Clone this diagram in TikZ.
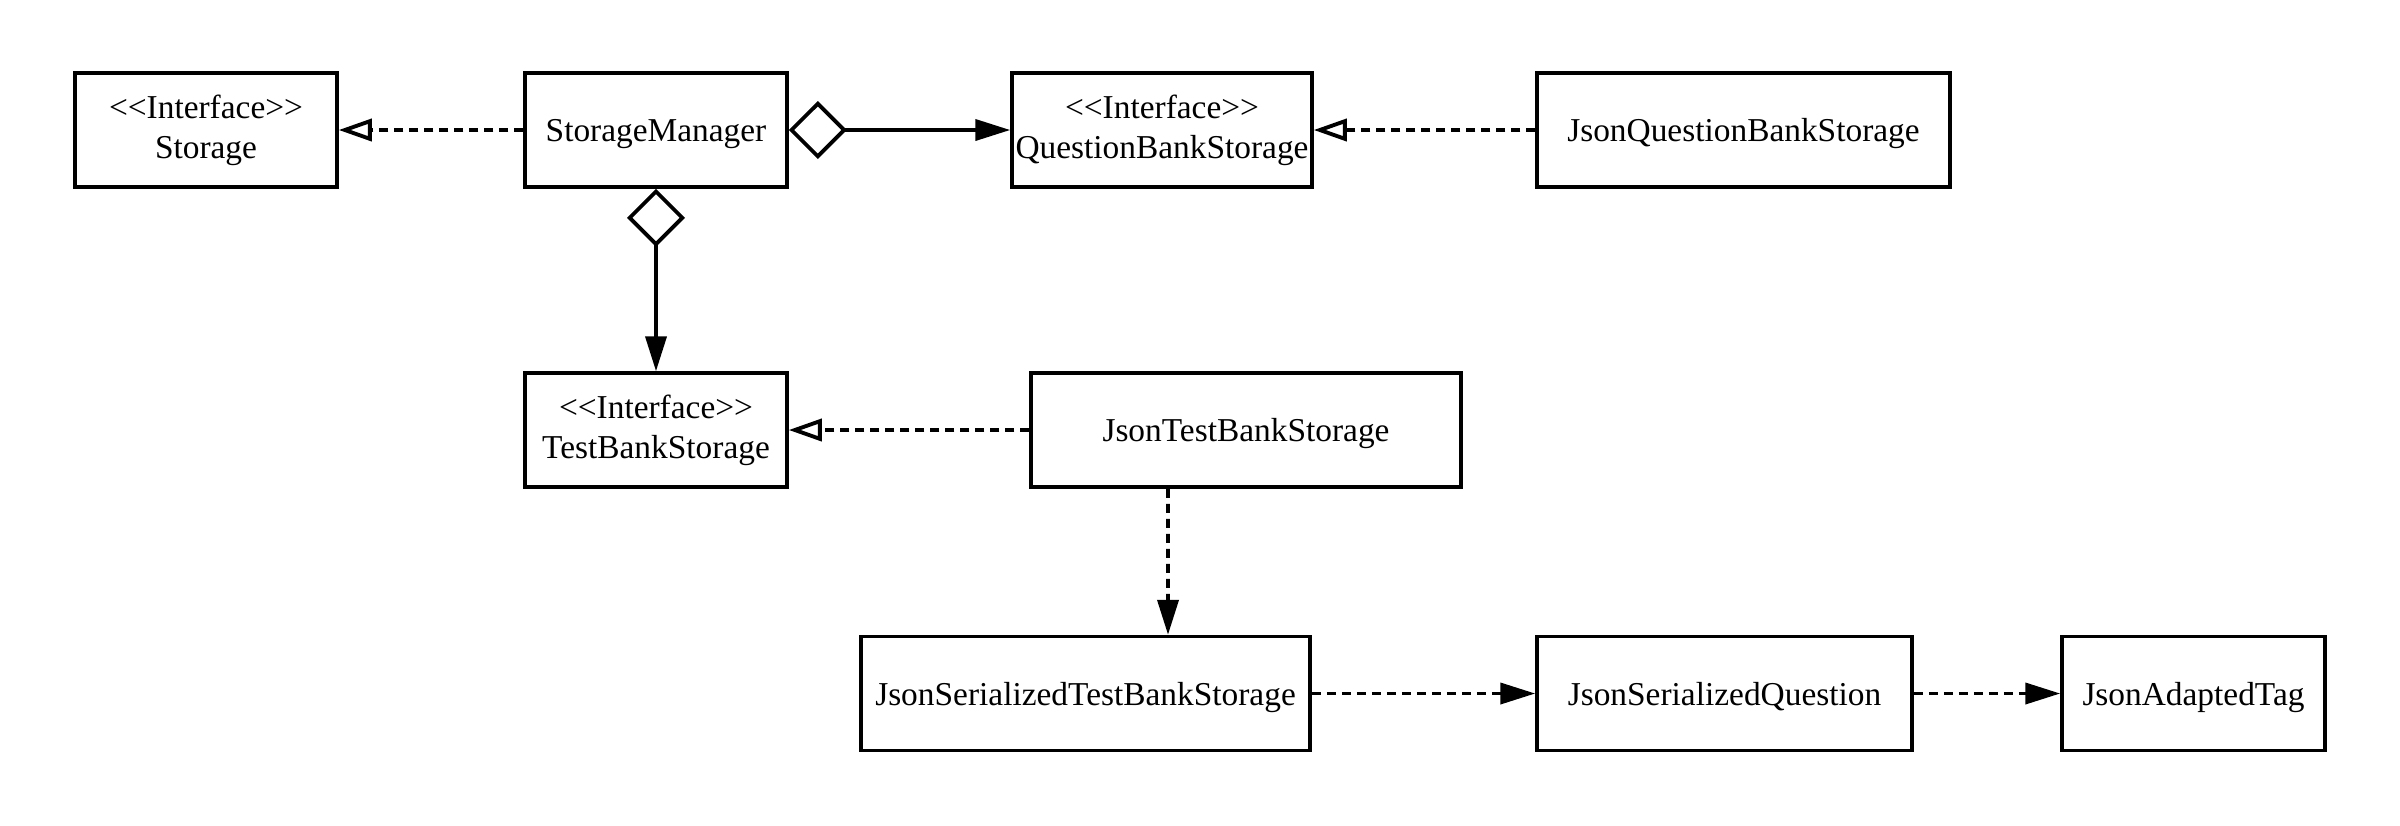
\documentclass[tikz,border=0pt]{standalone}
\usepackage{fontspec}
\setmainfont{Liberation Serif}
\usepackage{tikz}
\usetikzlibrary{arrows.meta,positioning,calc}

\begin{document}
\begin{tikzpicture}[>=Latex,
    cls/.style={draw,line width=1pt,minimum height=1.14cm,align=center,inner xsep=0.5pt,
      font=\fontsize{9.5}{11.4}\selectfont},
    onecls/.style={cls,text depth=0pt},
    realize/.style={line width=1.1pt,dash pattern=on 0.09cm off 0.06cm,
      -{Triangle[open,length=0.33cm,width=0.22cm,line width=1.1pt]}},
    depend/.style={line width=1.1pt,dash pattern=on 0.09cm off 0.06cm,
      -{Triangle[length=0.35cm,width=0.21cm]}},
    aggr/.style={line width=1.1pt,
      {Diamond[open,length=0.58cm,width=0.58cm,line width=1.1pt]}-{Triangle[length=0.35cm,width=0.21cm]}}]
  \useasboundingbox (0,0) rectangle (24,-8.25);
  % top row
  \node[cls,minimum width=2.62cm] (storage) at (2.06,-1.30) {<{}<Interface>{}>\\Storage};
  \node[onecls,minimum width=2.62cm] (mgr) at (6.56,-1.30) {StorageManager};
  \node[cls,minimum width=3.00cm] (qbs) at (11.62,-1.30) {<{}<Interface>{}>\\QuestionBankStorage};
  \node[onecls,minimum width=4.13cm] (jqbs) at (17.435,-1.30) {JsonQuestionBankStorage};
  % middle row
  \node[cls,minimum width=2.62cm] (tbs) at (6.56,-4.30) {<{}<Interface>{}>\\TestBankStorage};
  \node[onecls,minimum width=4.30cm] (jtbs) at (12.46,-4.30) {JsonTestBankStorage};
  % bottom row
  \node[onecls,minimum width=4.49cm] (jstbs) at (10.855,-6.935) {JsonSerializedTestBankStorage};
  \node[onecls,minimum width=3.75cm] (jsq) at (17.245,-6.935) {JsonSerializedQuestion};
  \node[onecls,minimum width=2.63cm] (jat) at (21.935,-6.935) {JsonAdaptedTag};

  \draw[realize] (mgr) -- (storage);
  \draw[aggr] (mgr) -- (qbs);
  \draw[realize] (jqbs) -- (qbs);
  \draw[aggr] (mgr) -- (tbs);
  \draw[realize] (jtbs) -- (tbs);
  \draw[depend] ([xshift=-0.78cm]jtbs.south) -- ([xshift=0.825cm]jstbs.north);
  \draw[depend] (jstbs) -- (jsq);
  \draw[depend] (jsq) -- (jat);
\end{tikzpicture}
\end{document}
